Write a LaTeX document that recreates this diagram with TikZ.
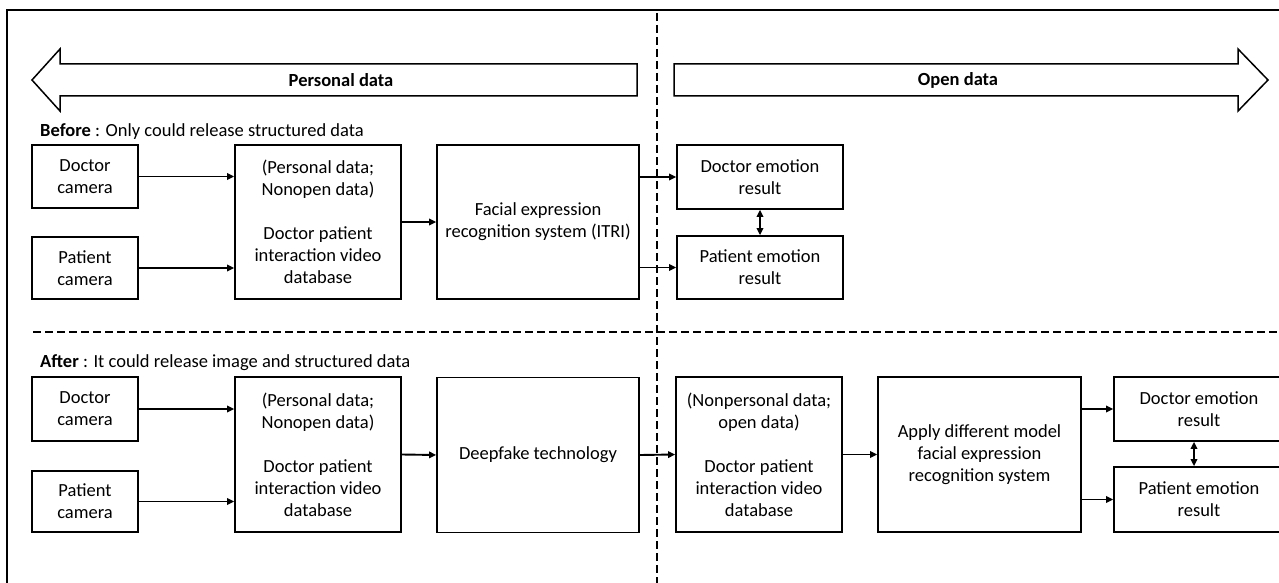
\documentclass[tikz,border=0pt]{standalone}
\usepackage{fontspec}
\setmainfont{Carlito}
\usetikzlibrary{arrows.meta}
\newcommand{\diagfont}{\fontsize{18.5}{22}\selectfont}
\begin{document}
\begin{tikzpicture}[x=1pt,y=-1pt,
  box/.style={draw, line width=1.7pt, align=center, inner sep=0pt, font=\diagfont},
  conn/.style={line width=1.9pt, -{Triangle[length=7pt,width=6.5pt]}},
  dconn/.style={line width=1.9pt, {Triangle[length=7pt,width=6.5pt]}-{Triangle[length=7pt,width=6.5pt]}},
  dline/.style={line width=1.5pt, dash pattern=on 8pt off 4pt},
  bigarrow/.style={draw, line width=1.5pt, line join=miter},
  label/.style={font=\diagfont, anchor=west, inner sep=0pt},
  head/.style={font=\diagfont\bfseries, inner sep=0pt}]
\useasboundingbox (0,0) rectangle (1279,583);
\clip (0,0) rectangle (1279,583);
\fill[white] (0,0) rectangle (1279,583);
% frame
\draw[line width=2pt] (7,600) -- (7,10) -- (1300,10);
% separators
\draw[dline] (657,13) -- (657,590);
\draw[dline] (33,332) -- (1300,332);
% big arrows
\draw[bigarrow] (637,64) -- (60,64) -- (60,49) -- (32,80) -- (60,111) -- (60,96) -- (637,96) -- cycle;
\draw[bigarrow] (674,64) -- (1238,64) -- (1238,49) -- (1268,80) -- (1238,111) -- (1238,96) -- (674,96) -- cycle;
\node[head] (pd) at (341,80) {Personal data};
\node[head] (od) at (958,80) {Open data};
% before
\node[label] (before) at (40,132) {\textbf{Before} : Only could release structured data};
\node[box, minimum width=106, minimum height=63] (dc1) at (85,176.5) {Doctor\\camera};
\node[box, minimum width=106, minimum height=62] (pc1) at (85,268) {Patient\\camera};
\node[box, minimum width=166, minimum height=154] (db1) at (318,222) {(Personal data;\\Nonopen data)\\[22pt]Doctor patient\\interaction video\\database};
\node[box, minimum width=202, minimum height=154] (fer1) at (538,222) {Facial expression\\recognition system (ITRI)};
\node[box, minimum width=166, minimum height=64] (de1) at (760,177) {Doctor emotion\\result};
\node[box, minimum width=166, minimum height=63] (pe1) at (760,267.5) {Patient emotion\\result};
\draw[conn] (dc1.east) -- (dc1.east -| db1.west);
\draw[conn] (pc1.east) -- (pc1.east -| db1.west);
\draw[conn] (db1.east) -- (fer1.west);
\draw[conn] (fer1.east |- de1.west) -- (de1.west);
\draw[conn] (fer1.east |- pe1.west) -- (pe1.west);
\draw[dconn] (de1.south) -- (pe1.north);
% after
\node[label] (after) at (40,363) {\textbf{After} : It could release image and structured data};
\node[box, minimum width=106, minimum height=64] (dc2) at (85,409) {Doctor\\camera};
\node[box, minimum width=106, minimum height=61] (pc2) at (85,501.5) {Patient\\camera};
\node[box, minimum width=166, minimum height=155] (db2) at (318,454.5) {(Personal data;\\Nonopen data)\\[22pt]Doctor patient\\interaction video\\database};
\node[box, minimum width=202, minimum height=155] (df) at (538,455) {Deepfake technology};
\node[box, minimum width=166, minimum height=155] (npdb) at (759,454.5) {(Nonpersonal data;\\open data)\\[22pt]Doctor patient\\interaction video\\database};
\node[box, minimum width=203, minimum height=155] (ap) at (979.5,454.5) {Apply different model\\facial expression\\recognition system};
\node[box, minimum width=170, minimum height=64] (de2) at (1199,409) {Doctor emotion\\result};
\node[box, minimum width=170, minimum height=65] (pe2) at (1199,499.5) {Patient emotion\\result};
\draw[conn] (dc2.east) -- (dc2.east -| db2.west);
\draw[conn] (pc2.east) -- (pc2.east -| db2.west);
\draw[conn] (db2.east) -- (df.west);
\draw[conn] (df.east) -- (npdb.west);
\draw[conn] (npdb.east) -- (ap.west);
\draw[conn] (ap.east |- de2.west) -- (de2.west);
\draw[conn] (ap.east |- pe2.west) -- (pe2.west);
\draw[dconn] ([xshift=-5pt]de2.south) -- ([xshift=-5pt]pe2.north);
\end{tikzpicture}
\end{document}
